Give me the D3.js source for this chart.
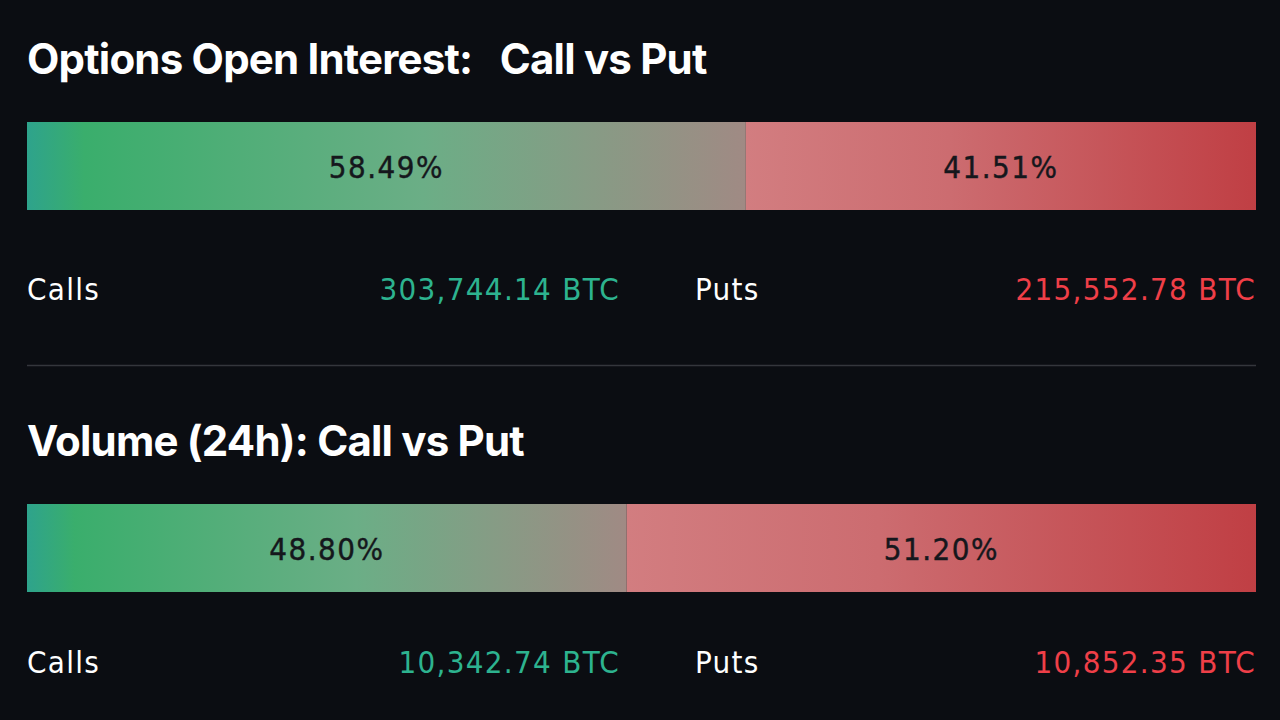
<!DOCTYPE html><html><head><meta charset="utf-8">
<script src="https://cdn.jsdelivr.net/npm/d3@7"></script>
<style>body{margin:0;background:#0b0d12;} text{white-space:pre;}</style></head><body><svg id="c" width="1280" height="720"></svg>
<script>
const titles=["Options Open Interest:   Call vs Put","Volume (24h): Call vs Put"];
const callPct=[58.49,48.80];
const putPct=[41.51,51.20];
const callBTC=["303,744.14 BTC","10,342.74 BTC"];
const putBTC=["215,552.78 BTC","10,852.35 BTC"];
const svg=d3.select("#c");
const defs=svg.append("defs");
const g1=defs.append("linearGradient").attr("id","gg");
[[0,"#2ea38c"],[0.08,"#3aae6c"],[0.55,"#6bae86"],[1,"#a08a84"]].forEach(s=>g1.append("stop").attr("offset",s[0]).attr("stop-color",s[1]));
const g2=defs.append("linearGradient").attr("id","rg");
[[0,"#d27d80"],[0.4,"#cc6c70"],[1,"#c03f44"]].forEach(s=>g2.append("stop").attr("offset",s[0]).attr("stop-color",s[1]));
const x=d3.scaleLinear().domain([0,100]).range([27,1256]);
const numFont="'DejaVu Sans Condensed', 'DejaVu Sans', sans-serif";
titles.forEach((t,i)=>{
  const oy=i*382;
  svg.append("text").attr("x",27).attr("y",74+oy).attr("fill","#fff").attr("font-family","Inter, sans-serif").attr("font-weight",700).attr("font-size",42).attr("letter-spacing",-0.8).text(t);
  const xs=x(callPct[i]);
  svg.append("rect").attr("x",x(0)).attr("y",122+oy).attr("width",xs-x(0)).attr("height",88).attr("fill","url(#gg)");
  svg.append("rect").attr("x",xs).attr("y",122+oy).attr("width",x(100)-xs).attr("height",88).attr("fill","url(#rg)");
  [[(x(0)+xs)/2,callPct[i]],[(xs+x(100))/2,putPct[i]]].forEach(d=>
    svg.append("text").attr("x",d[0]).attr("y",178+oy).attr("text-anchor","middle").attr("font-family",numFont).attr("font-size",31).attr("letter-spacing",1.5).attr("fill","#15171c").attr("stroke","#15171c").attr("stroke-width",0.4).text(d[1].toFixed(2)+"%"));
  const ly=300+i*373;
  const lab=(xx,anchor,col,txt)=>svg.append("text").attr("x",xx).attr("y",ly).attr("text-anchor",anchor).attr("fill",col).attr("font-family",numFont).attr("font-size",31).attr("letter-spacing",1.3).text(txt);
  lab(27,"start","#fff","Calls");
  lab(620,"end","#2db38f",callBTC[i]);
  lab(695,"start","#fff","Puts");
  lab(1256,"end","#ef3f48",putBTC[i]);
});
svg.append("line").attr("x1",27).attr("x2",1256).attr("y1",365.5).attr("y2",365.5).attr("stroke","#34363c").attr("stroke-width",1.5);
</script></body></html>
